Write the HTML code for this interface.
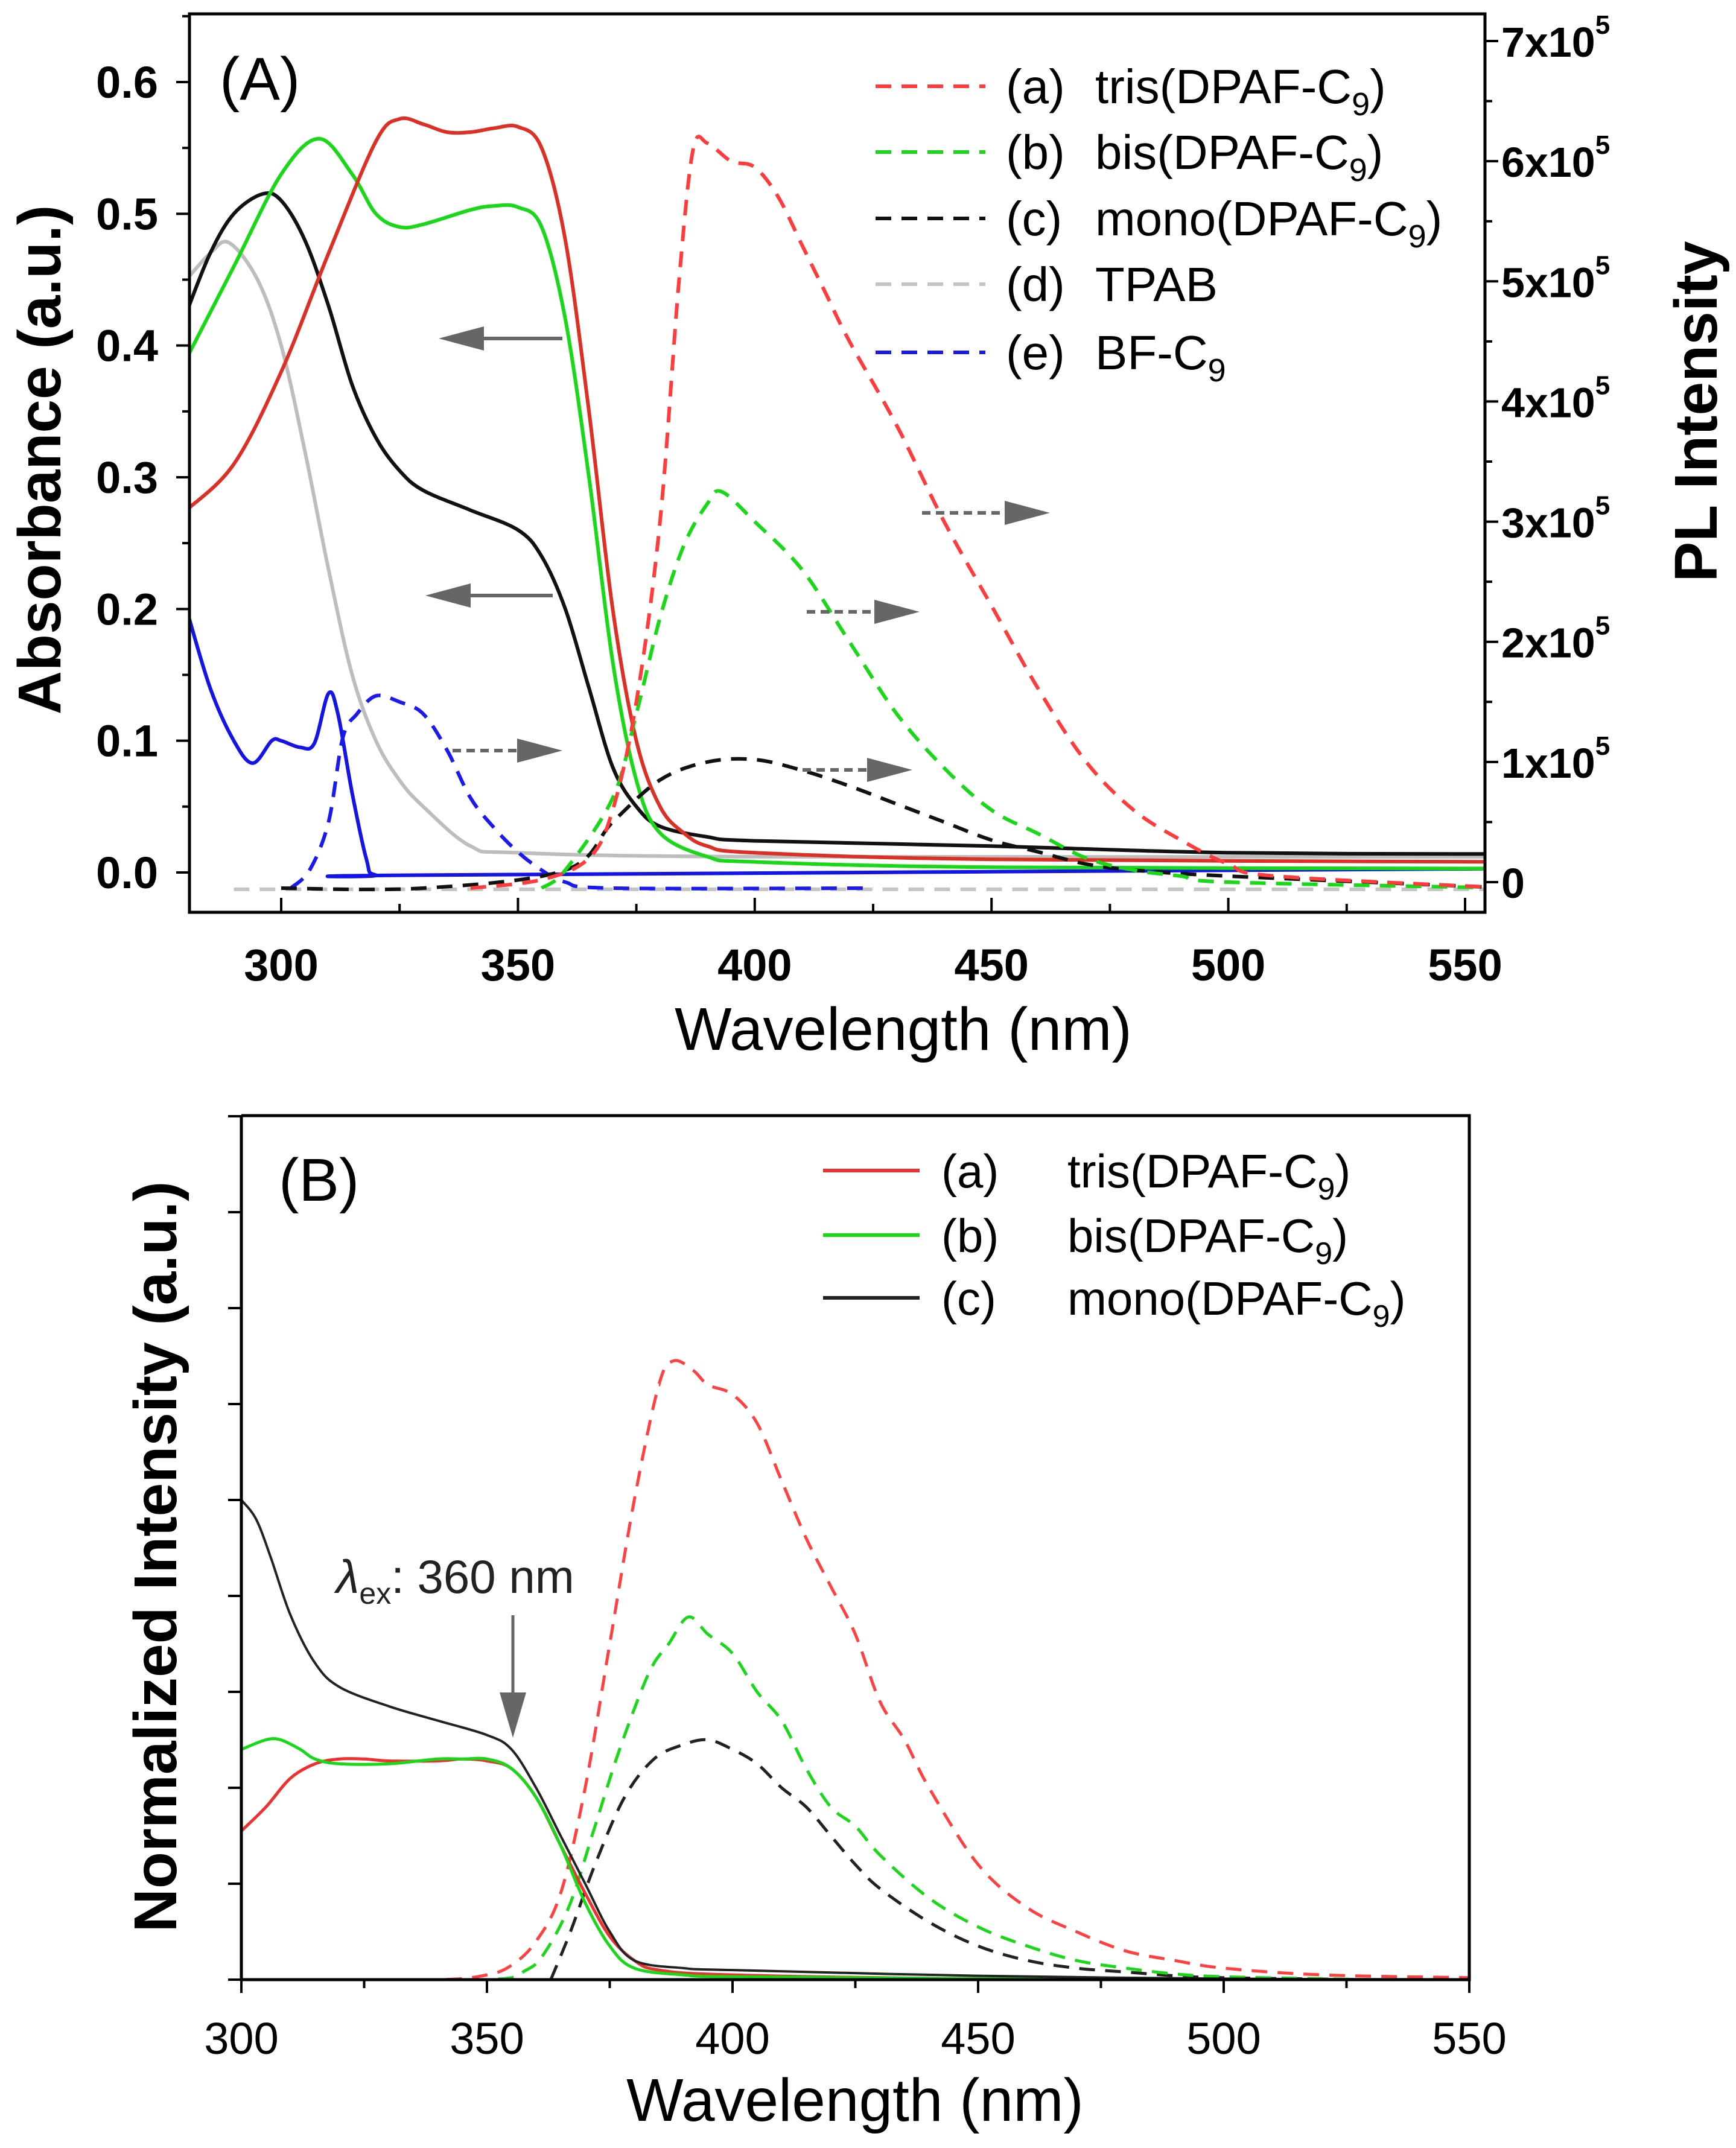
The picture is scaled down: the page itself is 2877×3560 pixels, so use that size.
<!DOCTYPE html>
<html><head><meta charset="utf-8"><style>
html,body{margin:0;padding:0;background:#fff;}
svg{display:block;font-family:"Liberation Sans",sans-serif;}
</style></head><body>
<svg id="fig" width="2877" height="3560" viewBox="0 0 2877 3560" xmlns="http://www.w3.org/2000/svg">
<g id="pa"></g>
<g id="pb"></g>
</svg>
<script>
// ---------- Panel A data ----------
const aTicksX=[300,350,400,450,500,550];
const aTicksY=[0,0.1,0.2,0.3,0.4,0.5,0.6];
const aTicksR=[0,1,2,3,4,5,6,7];
const absRedX=[280,290,300,310,320,325,330,335,340,345,350,355,360,365,370,375,380,385,390,400,450,560];
const absRedY=[0.275,0.31,0.38,0.47,0.555,0.572,0.568,0.562,0.562,0.565,0.566,0.55,0.48,0.35,0.2,0.1,0.05,0.03,0.02,0.015,0.01,0.008];
const absGreenX=[280,290,300,308,315,320,325,330,340,345,350,355,360,365,370,375,380,390,400,450,560];
const absGreenY=[0.39,0.46,0.53,0.557,0.53,0.5,0.49,0.492,0.503,0.506,0.505,0.49,0.42,0.3,0.16,0.07,0.03,0.012,0.008,0.004,0.003];
const absBlackX=[280,285,290,296,300,305,310,315,320,325,330,340,350,355,360,365,370,375,380,390,400,450,500,560];
const absBlackY=[0.425,0.47,0.5,0.515,0.51,0.48,0.43,0.37,0.33,0.305,0.29,0.275,0.26,0.24,0.2,0.14,0.08,0.05,0.035,0.027,0.024,0.02,0.015,0.014];
const absGrayX=[280,285,289,295,300,305,310,315,320,325,330,340,350,400,560];
const absGrayY=[0.45,0.47,0.478,0.45,0.4,0.32,0.23,0.15,0.1,0.07,0.05,0.02,0.015,0.012,0.012];
const absBlueX=[280,285,290,294,298,300,304,307,310,312,315,318,320,330,560];
const absBlueY=[0.2,0.14,0.1,0.083,0.1,0.1,0.095,0.098,0.136,0.12,0.06,0.01,-0.002,-0.002,0.003];
const plRedX=[340,355,365,370,375,380,384,387,390,395,400,405,410,415,420,430,440,450,460,470,480,490,500,510,560];
const plRedY=[-0.05,0.02,0.2,0.6,1.5,3.0,5.0,6.1,6.15,6.0,5.95,5.7,5.3,4.9,4.5,3.8,3.0,2.3,1.6,1.0,0.6,0.35,0.15,0.05,-0.05];
const plGreenX=[355,360,370,375,380,385,390,393,400,410,420,430,440,450,460,470,480,490,500,560];
const plGreenY=[-0.05,0.1,0.7,1.4,2.2,2.8,3.15,3.25,3.0,2.6,2.0,1.4,0.95,0.6,0.4,0.2,0.1,0.05,0.0,-0.05];
const plBlackX=[300,330,360,370,380,390,400,410,420,430,440,450,460,470,480,500,560];
const plBlackY=[-0.05,-0.05,0.1,0.5,0.85,1.0,1.02,0.93,0.8,0.65,0.5,0.35,0.25,0.15,0.1,0.05,-0.05];
const plGrayX=[290,560];
const plGrayY=[-0.06,-0.06];
const plBlueX=[302,306,310,313,316,320,325,330,335,340,345,350,355,360,370,425];
const plBlueY=[-0.05,0.1,0.5,1.2,1.4,1.55,1.5,1.4,1.1,0.7,0.45,0.25,0.1,0,-0.05,-0.05];
// ---------- Panel B data ----------
const bTicksX=[300,350,400,450,500,550];
const bTicksY=[0,1,2,3,4,5,6,7,8,9];
const bRedX=[300,305,310,315,320,325,330,340,345,350,355,360,365,370,375,380,385,400,450,550];
const bRedY=[1.55,1.8,2.1,2.25,2.3,2.3,2.28,2.28,2.3,2.28,2.2,1.9,1.4,0.9,0.45,0.2,0.1,0.05,0.01,0];
const bGreenX=[300,305,308,312,315,320,330,340,345,350,355,360,365,370,375,380,390,400,450,550];
const bGreenY=[2.4,2.5,2.5,2.4,2.3,2.25,2.25,2.3,2.3,2.3,2.2,1.9,1.4,0.8,0.35,0.12,0.05,0.03,0.01,0];
const bBlackX=[300,303,306,310,315,320,330,340,350,355,360,365,370,375,380,390,400,450,500,550];
const bBlackY=[5.0,4.8,4.4,3.8,3.3,3.05,2.85,2.7,2.55,2.4,2.0,1.5,1.0,0.5,0.2,0.12,0.1,0.04,0.01,0];
const bPlRedX=[310,340,350,355,360,365,370,375,380,385,388,392,395,400,405,410,415,420,425,430,435,440,450,460,470,480,490,500,520,550];
const bPlRedY=[0,0,0.05,0.15,0.4,0.9,2.0,3.5,5.0,6.2,6.45,6.35,6.2,6.1,5.8,5.2,4.6,4.1,3.6,2.9,2.5,2.0,1.2,0.75,0.5,0.3,0.2,0.12,0.05,0.02];
const bPlGreenX=[310,350,358,362,367,372,377,383,387,391,395,400,405,410,415,420,425,430,440,450,460,470,480,490,500,520,530];
const bPlGreenY=[0,0,0.1,0.3,0.8,1.6,2.4,3.2,3.5,3.78,3.6,3.4,3.0,2.7,2.2,1.8,1.6,1.3,0.85,0.55,0.35,0.2,0.12,0.06,0.03,0.01,0];
const bPlBlackX=[363,367,372,378,384,390,395,400,405,410,415,420,425,430,440,450,460,470,480,490,500,530];
const bPlBlackY=[0,0.5,1.2,1.9,2.3,2.45,2.5,2.4,2.25,2.0,1.8,1.5,1.2,0.95,0.6,0.35,0.2,0.12,0.08,0.04,0.02,0];

const NS="http://www.w3.org/2000/svg";
function mk(parent,tag,attrs,text){const e=document.createElementNS(NS,tag);for(const k in attrs)e.setAttribute(k,attrs[k]);if(text!==undefined)e.textContent=text;parent.appendChild(e);return e;}
const pa=document.getElementById('pa'),pb=document.getElementById('pb');

const AL=314,AR=2461,AT=23,AB=1512;
const ax=v=>466+(v-300)*(2428-466)/250;
const ay=v=>1446-v*(1446-136)/0.6;
const ar=v=>1462-v*(1462-68)/7;
function pathD(xs,ys,fx,fy){
  const P=xs.map((x,i)=>[fx(x),fy(ys[i])]);
  let d='M'+P[0][0].toFixed(1)+' '+P[0][1].toFixed(1);
  for(let i=0;i<P.length-1;i++){
    const p0=P[Math.max(i-1,0)],p1=P[i],p2=P[i+1],p3=P[Math.min(i+2,P.length-1)];
    const c1=[p1[0]+(p2[0]-p0[0])/6,p1[1]+(p2[1]-p0[1])/6];
    const c2=[p2[0]-(p3[0]-p1[0])/6,p2[1]-(p3[1]-p1[1])/6];
    d+=` C${c1[0].toFixed(1)} ${c1[1].toFixed(1)} ${c2[0].toFixed(1)} ${c2[1].toFixed(1)} ${p2[0].toFixed(1)} ${p2[1].toFixed(1)}`;
  }
  return d;
}
function series(g,xs,ys,fx,fy,color,dash,name,w){
  const p=mk(g,'path',{d:pathD(xs,ys,fx,fy),fill:'none',stroke:color,'stroke-width':w||6,'stroke-linejoin':'round'});
  if(dash)p.setAttribute('stroke-dasharray',dash);
  
  
}
const cpA=mk(pa,'clipPath',{id:'cpa'});mk(cpA,'rect',{x:AL,y:AT,width:AR-AL,height:AB-AT});
const gA=mk(pa,'g',{'clip-path':'url(#cpa)'});


const D='26 17';
series(gA,absGrayX,absGrayY,ax,ay,'#bdbdbd',null,'abs-tpab');
series(gA,absBlueX,absBlueY,ax,ay,'#1414e6',null,'abs-bf-c9');
series(gA,absBlackX,absBlackY,ax,ay,'#111',null,'abs-mono');
series(gA,absGreenX,absGreenY,ax,ay,'#18d818',null,'abs-bis');
series(gA,absRedX,absRedY,ax,ay,'#dc3025',null,'abs-tris');
series(gA,plGrayX,plGrayY,ax,ar,'#c4c4c4',D,'pl-tpab');
series(gA,plBlueX,plBlueY,ax,ar,'#1a1aee',D,'pl-bf-c9');
series(gA,plBlackX,plBlackY,ax,ar,'#111',D,'pl-mono');
series(gA,plGreenX,plGreenY,ax,ar,'#18d818',D,'pl-bis');
series(gA,plRedX,plRedY,ax,ar,'#ff3b3b',D,'pl-tris');
mk(pa,'rect',{x:AL,y:AT,width:AR-AL,height:AB-AT,fill:'none',stroke:'#000','stroke-width':5});
aTicksX.forEach(v=>{const x=ax(v);mk(pa,'line',{x1:x,y1:AB,x2:x,y2:AB-24,stroke:'#000','stroke-width':4});
  const t=mk(pa,'text',{x:x,y:1625,'font-size':74,'font-weight':'bold','text-anchor':'middle'},v);});
aTicksX.forEach(v=>{const x=ax(v-25);if(x>AL)mk(pa,'line',{x1:x,y1:AB,x2:x,y2:AB-14,stroke:'#000','stroke-width':4});});
aTicksY.forEach(v=>{const y=ay(v);mk(pa,'line',{x1:AL,y1:y,x2:AL-22,y2:y,stroke:'#000','stroke-width':4});mk(pa,'line',{x1:AL,y1:ay(v+0.05),x2:AL-12,y2:ay(v+0.05),stroke:'#000','stroke-width':4});
  const t=mk(pa,'text',{x:262,y:y+26,'font-size':74,'font-weight':'bold','text-anchor':'end'},v.toFixed(1));});
aTicksR.forEach(v=>{const y=ar(v);mk(pa,'line',{x1:AR,y1:y,x2:AR+22,y2:y,stroke:'#000','stroke-width':4});if(v<7)mk(pa,'line',{x1:AR,y1:ar(v+0.5),x2:AR+12,y2:ar(v+0.5),stroke:'#000','stroke-width':4});
  const t=mk(pa,'text',{x:2488,y:y+26,'font-size':70,'font-weight':'bold'},v===0?'0':v+'x10');
  if(v)mk(t,'tspan',{dy:-38,'font-size':44},'5');});
let t;
t=mk(pa,'text',{x:1497,y:1740,'font-size':100,'text-anchor':'middle'},'Wavelength (nm)');
t=mk(pa,'text',{x:0,y:0,'font-size':100,'font-weight':'bold','text-anchor':'middle',transform:'translate(100,762) rotate(-90)'},'Absorbance (a.u.)');
t=mk(pa,'text',{x:0,y:0,'font-size':100,'font-weight':'bold','text-anchor':'middle',transform:'translate(2845,682) rotate(-90)'},'PL Intensity');
t=mk(pa,'text',{x:364,y:165,'font-size':100},'(A)');
function arrow(g,x1,y,x2,dashed,name){const dir=Math.sign(x2-x1);const a=mk(g,'g',{});
  mk(a,'line',{x1:x1,y1:y,x2:x2-dir*70,y2:y,stroke:'#666','stroke-width':6,'stroke-dasharray':dashed?'14 9':'none'});
  mk(a,'polygon',{points:`${x2},${y} ${x2-dir*75},${y-20} ${x2-dir*75},${y+20}`,fill:'#666'});}
arrow(pa,932,561,727,false,'arrow-left-abs-1');
arrow(pa,916,987,705,false,'arrow-left-abs-2');
arrow(pa,750,1244,932,true,'arrow-right-pl-1');
arrow(pa,1528,850,1740,true,'arrow-right-pl-2');
arrow(pa,1337,1014,1524,true,'arrow-right-pl-3');
arrow(pa,1330,1276,1512,true,'arrow-right-pl-4');
const legA=[['(a)','tris(DPAF-C','#ff3b3b'],['(b)','bis(DPAF-C','#18d818'],['(c)','mono(DPAF-C','#111'],['(d)','TPAB','#c4c4c4'],['(e)','BF-C','#1a1aee']];
const legAY=[143,252,362,471,584];
legA.forEach((l,i)=>{const g=mk(pa,'g',{});
  mk(g,'line',{x1:1451,y1:legAY[i],x2:1633,y2:legAY[i],stroke:l[2],'stroke-width':6,'stroke-dasharray':D});
  mk(g,'text',{x:1667,y:legAY[i]+28,'font-size':80},l[0]);
  const tx=mk(g,'text',{x:1815,y:legAY[i]+28,'font-size':80},l[1]);
  if(i!==3){mk(tx,'tspan',{dy:20,'font-size':54},'9');if(i<3)mk(tx,'tspan',{dy:-20},')');}
});
const BL=400,BR=2435,BT=1849,BB=3281;
const bx=v=>BL+(v-300)*(BR-BL)/250;
const by=v=>BB-v*159;
const cpB=mk(pb,'clipPath',{id:'cpb'});mk(cpB,'rect',{x:BL,y:BT,width:BR-BL,height:BB-BT});
const gB=mk(pb,'g',{'clip-path':'url(#cpb)'});


series(gB,bPlBlackX,bPlBlackY,bx,by,'#222',D,'pl-mono-norm',5);
series(gB,bPlGreenX,bPlGreenY,bx,by,'#18d818',D,'pl-bis-norm',5);
series(gB,bPlRedX,bPlRedY,bx,by,'#ff4040',D,'pl-tris-norm',5);
series(gB,bRedX,bRedY,bx,by,'#ee3030',null,'abs-tris-norm',5);
series(gB,bGreenX,bGreenY,bx,by,'#18d818',null,'abs-bis-norm',5);
series(gB,bBlackX,bBlackY,bx,by,'#222',null,'abs-mono-norm',4);
mk(pb,'polyline',{points:`${BL},${BT} ${BR},${BT} ${BR},${BB} ${BL},${BB} ${BL},${BT}`,fill:'none',stroke:'#000','stroke-width':5});
bTicksX.forEach(v=>{const x=bx(v);mk(pb,'line',{x1:x,y1:BB,x2:x,y2:BB+22,stroke:'#000','stroke-width':4});if(v<550)mk(pb,'line',{x1:bx(v+25),y1:BB,x2:bx(v+25),y2:BB+14,stroke:'#000','stroke-width':4});
  const tt=mk(pb,'text',{x:x,y:3404,'font-size':74,'text-anchor':'middle'},v);});
bTicksY.forEach(v=>{mk(pb,'line',{x1:BL,y1:by(v),x2:BL-22,y2:by(v),stroke:'#000','stroke-width':4});});
t=mk(pb,'text',{x:1417,y:3515,'font-size':100,'text-anchor':'middle'},'Wavelength (nm)');
t=mk(pb,'text',{x:0,y:0,'font-size':100,'font-weight':'bold','text-anchor':'middle',transform:'translate(292,2580) rotate(-90)'},'Normalized Intensity (a.u.)');
t=mk(pb,'text',{x:462,y:1990,'font-size':100},'(B)');
t=mk(pb,'text',{x:557,y:2640,'font-size':78,fill:'#222'});
mk(t,'tspan',{'font-style':'italic'},'λ');mk(t,'tspan',{dy:18,'font-size':50},'ex');mk(t,'tspan',{dy:-18},': 360 nm');
const ga=mk(pb,'g',{});
mk(ga,'line',{x1:850,y1:2677,x2:850,y2:2820,stroke:'#666','stroke-width':5});
mk(ga,'polygon',{points:'850,2880 828,2805 872,2805',fill:'#666'});
const legB=[['(a)','tris(DPAF-C','#ee3030'],['(b)','bis(DPAF-C','#18d818'],['(c)','mono(DPAF-C','#222']];
const legBY=[1940,2047,2151];
legB.forEach((l,i)=>{const g=mk(pb,'g',{});
  mk(g,'line',{x1:1364,y1:legBY[i],x2:1524,y2:legBY[i],stroke:l[2],'stroke-width':6});
  mk(g,'text',{x:1560,y:legBY[i]+28,'font-size':78},l[0]);
  const tx=mk(g,'text',{x:1769,y:legBY[i]+28,'font-size':78},l[1]);
  mk(tx,'tspan',{dy:20,'font-size':52},'9');mk(tx,'tspan',{dy:-20},')');
});
</script>
</body></html>
